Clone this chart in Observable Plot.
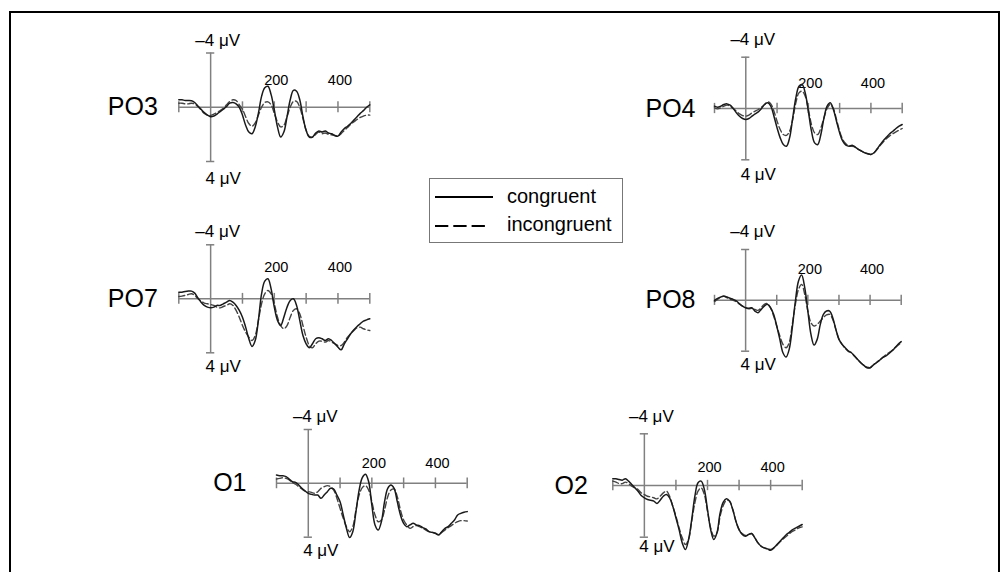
<!DOCTYPE html>
<html><head><meta charset="utf-8">
<script src="https://cdn.jsdelivr.net/npm/d3@7"></script>
<script src="https://cdn.jsdelivr.net/npm/@observablehq/plot@0.6"></script>
<style>
html,body{margin:0;padding:0;background:#fff;overflow:hidden;}
#wrap{position:relative;width:1001px;height:572px;overflow:hidden;font-family:"Liberation Sans",Arial,sans-serif;background:#fff;}
#frame{position:absolute;left:9px;top:11px;width:987px;height:600px;border:2px solid #000;border-bottom:none;}
#wrap svg{position:absolute;left:0;top:0;}
#legend{position:absolute;left:429px;top:178px;width:192px;height:63px;border:1.5px solid #777;}
</style></head><body>
<div id="wrap"><div id="frame"></div></div>
<script>
// time points (ms)
const times = [-100,-90,-80,-70,-60,-50,-40,-30,-20,-10,0,10,20,30,40,50,60,70,80,90,100,110,120,130,140,150,160,170,180,190,200,210,220,230,240,250,260,270,280,290,300,310,320,330,340,350,360,370,380,390,400,410,420,430,440,450,460,470,480,490,500];
const xTicks = [-100, 100, 200, 300, 400, 500];
const xTickLabels = [200, 400];
const yLimits = [-4, 4];
const yTopLabel = "–4 μV";
const yBottomLabel = "4 μV";
const conditions = ["congruent", "incongruent"];

// amplitudes in µV (negative plotted up)
const po3Congruent = [-0.55,-0.55,-0.5,-0.5,-0.48,-0.35,-0.1,0.15,0.4,0.58,0.7,0.65,0.5,0.33,0.15,-0.05,-0.3,-0.35,-0.25,0,0.58,1.33,1.83,1.95,1.45,0.45,-0.8,-1.43,-1.55,-0.93,0.2,1.45,2.2,1.83,0.7,-0.55,-1.25,-1.18,-0.55,0.7,1.7,2.2,2.2,1.9,1.75,1.83,1.75,1.9,1.95,2.08,2.13,1.83,1.58,1.4,1.2,0.95,0.7,0.45,0.25,0,-0.18];
const po3Incongruent = [-0.3,-0.3,-0.25,-0.25,-0.3,-0.25,-0.05,0.2,0.45,0.58,0.6,0.5,0.4,0.25,0.08,-0.18,-0.43,-0.55,-0.5,-0.18,0.15,0.7,1.2,1.4,1.15,0.58,0,-0.35,-0.4,-0.18,0.45,1.08,1.45,1.33,0.7,0,-0.43,-0.43,0,0.83,1.7,2.15,2.2,2.0,1.83,1.95,1.9,2.0,2.03,2.08,2.13,1.95,1.7,1.5,1.25,1.08,0.9,0.75,0.65,0.58,0.58];
const po4Congruent = [-0.18,-0.1,-0.18,-0.31,-0.36,-0.26,0,0.34,0.6,0.78,0.86,0.78,0.6,0.42,0.26,0,-0.31,-0.44,-0.18,0.6,1.51,2.29,2.81,2.94,2.29,0.73,-0.83,-1.74,-1.87,-1.22,0.21,1.77,2.68,2.81,2.03,0.73,-0.18,-0.44,0.08,0.99,1.9,2.55,2.86,2.94,2.86,3.01,3.19,3.32,3.45,3.53,3.58,3.45,3.14,2.81,2.49,2.23,1.97,1.77,1.56,1.38,1.25];
const po4Incongruent = [-0.05,0.03,-0.05,-0.18,-0.26,-0.18,0,0.21,0.42,0.55,0.6,0.52,0.34,0.21,0.08,-0.1,-0.31,-0.52,-0.36,0.21,0.99,1.64,2.03,2.1,1.77,0.86,-0.44,-1.22,-1.35,-0.96,0.08,1.25,1.9,2.03,1.51,0.73,0,-0.31,0,0.86,1.77,2.42,2.75,2.94,2.94,3.01,3.19,3.32,3.45,3.53,3.58,3.45,3.19,2.86,2.6,2.34,2.13,1.97,1.82,1.69,1.56];
const po7Congruent = [-0.49,-0.49,-0.54,-0.57,-0.57,-0.42,-0.07,0.25,0.49,0.62,0.67,0.62,0.49,0.49,0.37,0.25,0.12,0.25,0.49,0.86,1.36,2.1,2.96,3.53,3.09,1.6,-0.37,-1.31,-1.48,-0.74,0.62,1.6,1.98,1.36,0.62,0.12,0,0.49,1.6,2.72,3.33,3.63,3.33,2.96,2.89,2.96,3.09,2.96,3.09,3.33,3.58,3.78,3.33,2.96,2.59,2.3,2.05,1.85,1.65,1.56,1.48];
const po7Incongruent = [-0.17,-0.2,-0.25,-0.32,-0.37,-0.25,0,0.17,0.32,0.37,0.42,0.49,0.62,0.67,0.57,0.49,0.37,0.49,0.86,1.36,1.98,2.47,2.84,3.09,2.72,1.6,0.37,-0.37,-0.62,-0.37,0.37,1.36,1.98,2.22,1.98,1.36,0.86,0.74,1.11,1.98,2.84,3.46,3.63,3.33,3.14,3.14,3.21,3.09,3.21,3.33,3.46,3.46,3.21,2.84,2.59,2.35,2.15,2.1,2.22,2.3,2.35];
const po8Congruent = [0,-0.16,-0.26,-0.34,-0.26,-0.16,-0.08,0.05,0.26,0.45,0.58,0.63,0.58,0.84,0.97,0.71,0.45,0.31,0.58,1.1,2.02,3.07,4.12,4.46,3.86,2.15,0.05,-1.52,-1.99,-1.0,0.84,2.68,3.52,3.07,1.89,1.1,0.84,0.84,1.36,2.28,3.07,3.46,3.73,3.99,4.12,4.38,4.65,4.91,5.12,5.3,5.3,5.09,4.91,4.72,4.51,4.38,4.2,3.99,3.73,3.46,3.25];
const po8Incongruent = [0.1,-0.08,-0.26,-0.31,-0.21,-0.08,0,0.1,0.31,0.45,0.58,0.66,0.63,0.71,0.79,0.58,0.31,0.26,0.58,1.23,2.02,2.81,3.46,3.73,3.33,1.89,0.31,-0.87,-1.26,-0.47,0.84,1.76,2.02,1.89,1.63,1.36,1.15,1.1,1.5,2.28,3.07,3.46,3.78,3.99,4.12,4.38,4.65,4.91,5.12,5.25,5.3,5.09,4.91,4.72,4.51,4.3,4.12,3.94,3.73,3.52,3.33];
const o1Congruent = [-0.62,-0.57,-0.57,-0.5,-0.32,-0.12,-0.07,0.12,0.37,0.57,0.74,0.82,0.87,0.87,1.11,0.87,0.62,0.37,0.42,0.87,1.36,2.35,3.34,4.03,3.59,2.1,0.5,-0.42,-0.67,-0.12,1.61,3.09,3.47,2.85,1.36,0.37,0.12,0.37,1.36,2.35,2.97,3.22,3.09,2.97,3.09,3.14,3.29,3.39,3.59,3.64,3.71,3.84,3.59,3.34,3.22,2.97,2.72,2.35,2.23,2.15,2.1];
const o1Incongruent = [-0.32,-0.37,-0.42,-0.37,-0.25,-0.07,0.07,0.25,0.42,0.57,0.62,0.67,0.74,0.62,0.37,0.25,0.17,0.25,0.5,1.11,1.86,2.6,3.22,3.59,3.22,1.98,0.87,0.32,0.17,0.5,1.36,2.35,2.85,2.72,1.98,0.99,0.5,0.42,0.99,1.98,2.72,3.09,3.34,3.22,3.14,3.22,3.34,3.47,3.59,3.64,3.71,3.79,3.64,3.47,3.29,3.14,2.97,2.85,2.77,2.77,2.8];
const o2Congruent = [-0.52,-0.52,-0.46,-0.41,-0.52,-0.34,-0.08,0.18,0.44,0.77,0.95,1.08,1.14,1.21,1.39,1.14,0.83,0.7,0.95,1.6,2.5,3.41,4.44,4.95,4.18,2.63,0.83,-0.21,-0.34,0.31,1.86,3.41,4.18,3.66,2.12,1.29,1.03,1.21,1.86,2.76,3.41,3.79,3.92,3.79,3.72,4.05,4.44,4.7,4.83,4.9,5.01,4.83,4.57,4.31,4.05,3.79,3.61,3.41,3.28,3.15,3.02];
const o2Incongruent = [-0.34,-0.26,-0.15,-0.15,-0.26,-0.15,0.05,0.18,0.31,0.57,0.7,0.83,0.88,0.95,1.03,0.83,0.57,0.44,0.83,1.6,2.37,3.28,4.05,4.57,4.18,2.76,1.34,0.44,0.18,0.7,1.99,3.28,3.92,3.66,2.37,1.55,1.14,1.21,1.86,2.76,3.41,3.72,3.87,3.79,3.72,4.05,4.44,4.7,4.83,4.9,4.95,4.83,4.62,4.36,4.13,3.92,3.72,3.54,3.41,3.28,3.2];

// panel placement (pixels) — layout only
const panels = [
  {name:"PO3", con:po3Congruent, inc:po3Incongruent, x0:178.3, x1:369.3, yTop:52.5, yBot:161,   topLab:7.5,  botLab:22, tickLab:22,   nameGap:21},
  {name:"PO4", con:po4Congruent, inc:po4Incongruent, x0:714,   x1:901.7, yTop:56.7, yBot:159.3, topLab:12.7, botLab:20, tickLab:21,   nameGap:19},
  {name:"PO7", con:po7Congruent, inc:po7Incongruent, x0:178.3, x1:369.3, yTop:244.3,yBot:352.3, topLab:8.3,  botLab:19, tickLab:26.6, nameGap:21},
  {name:"PO8", con:po8Congruent, inc:po8Incongruent, x0:714,   x1:900.7, yTop:249,  yBot:350.7, topLab:13,   botLab:18.6,tickLab:26.6, nameGap:19},
  {name:"O1",  con:o1Congruent,  inc:o1Incongruent,  x0:276,   x1:466.7, yTop:429,  yBot:536.7, topLab:8,    botLab:18.3,tickLab:15.6, nameGap:30},
  {name:"O2",  con:o2Congruent,  inc:o2Incongruent,  x0:612.3, x1:801.7, yTop:433.3,yBot:536.7, topLab:12.3, botLab:15, tickLab:13.3, nameGap:25}
];

const W = 1001, H = 572;
const axisColor = "#808080";
const font = "'Liberation Sans', Arial, sans-serif";
const wrap = document.getElementById("wrap");

for (const p of panels) {
  const svg = Plot.plot({
    width: W, height: H,
    marginLeft: p.x0, marginRight: W - p.x1, marginTop: p.yTop, marginBottom: H - p.yBot,
    x: {domain: [-100, 500], axis: null},
    y: {domain: [-4, 4], reverse: true, axis: null},
    style: {background: "transparent", fontFamily: font, overflow: "visible", color: "#000"},
    marks: [
      Plot.ruleY([0], {x1: -100, x2: 500, stroke: axisColor, strokeWidth: 1.5}),
      Plot.ruleX(xTicks, {x: d => d, y1: -0.4, y2: 0.4, stroke: axisColor, strokeWidth: 1.5}),
      Plot.ruleX([0], {x: d => d, y1: -4, y2: 4, stroke: axisColor, strokeWidth: 1.5}),
      Plot.ruleY(yLimits, {y: d => d, x1: -13, x2: 13, stroke: axisColor, strokeWidth: 1.5}),
      Plot.text(xTickLabels, {x: d => d, y: 0, text: d => String(d), dy: -p.tickLab, dx: 2, lineAnchor: "bottom", fontSize: 14.5, fill: "#000"}),
      Plot.text([yTopLabel], {x: 0, y: -4, text: d => d, dy: -p.topLab, dx: 7, lineAnchor: "bottom", fontSize: 17, fill: "#000"}),
      Plot.text([yBottomLabel], {x: 0, y: 4, text: d => d, dy: p.botLab, dx: 12.5, lineAnchor: "bottom", fontSize: 17, fill: "#000"}),
      Plot.text([p.name], {x: -100, y: 0, text: d => d, dx: -p.nameGap, textAnchor: "end", lineAnchor: "middle", fontSize: 25, fill: "#000"}),
      Plot.line(p.inc, {x: times, y: p.inc, curve: "catmull-rom", stroke: "#444", strokeWidth: 1.4, strokeDasharray: "6,3"}),
      Plot.line(p.con, {x: times, y: p.con, curve: "catmull-rom", stroke: "#1a1a1a", strokeWidth: 1.5})
    ]
  });
  wrap.appendChild(svg);
}

// legend
const leg = document.createElement("div");
leg.id = "legend";
wrap.appendChild(leg);
const ls = d3.select(wrap).append("svg").attr("width", W).attr("height", H).style("font-family", font);
ls.append("line").attr("x1", 435).attr("x2", 493).attr("y1", 197).attr("y2", 197).attr("stroke", "#000").attr("stroke-width", 2);
ls.append("line").attr("x1", 435).attr("x2", 485).attr("y1", 226).attr("y2", 226).attr("stroke", "#000").attr("stroke-width", 2).attr("stroke-dasharray", "13.3,5");
ls.append("text").attr("x", 507).attr("y", 203).attr("font-size", 20).text(conditions[0]);
ls.append("text").attr("x", 507).attr("y", 231).attr("font-size", 20).text(conditions[1]);
</script>
</body></html>
